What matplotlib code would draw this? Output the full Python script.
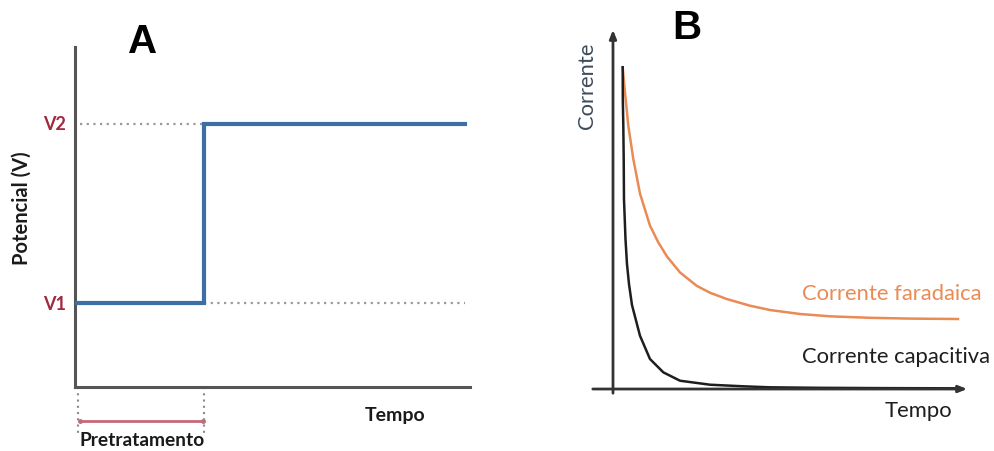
import matplotlib.pyplot as plt
import numpy as np

# ---- panel A: potential step ----
step_t = [0.0, 1.0, 1.0, 3.02]          # tempo (arb. units), pretreatment ends at t=1
step_v = [1.0, 1.0, 2.0, 2.0]           # V1 -> V2
level_names = ['V1', 'V2']
level_values = [1.0, 2.0]
pre_start, pre_end = 0.02, 1.0

# ---- panel B: current transients ----
far_t = [0.272, 0.336, 0.429, 0.569, 0.756, 1.036, 1.269, 1.513, 1.877, 2.345, 2.717,
         3.185, 3.838, 4.398, 5.238, 6.078, 7.199, 8.319, 9.664]
far_i = [8.887, 8.196, 7.273, 6.354, 5.400, 4.514, 4.050, 3.660, 3.220, 2.850, 2.660,
         2.486, 2.301, 2.182, 2.072, 2.008, 1.967, 1.945, 1.934]
cap_t = [0.272, 0.275, 0.289, 0.300, 0.308, 0.350, 0.392, 0.448, 0.532, 0.756, 1.036,
         1.409, 1.877, 2.717, 3.641, 4.398, 5.798, 7.479, 9.664]
cap_i = [8.887, 8.011, 7.273, 6.354, 5.249, 4.144, 3.453, 2.901, 2.320, 1.472, 0.829,
         0.461, 0.229, 0.119, 0.075, 0.047, 0.033, 0.025, 0.019]

W, H = 994, 452
fig = plt.figure(figsize=(W / 100, H / 100), dpi=100)
fig.patch.set_facecolor('white')


def frac(x0, y0, x1, y1):
    # pixel box (top-left origin) -> figure fraction rect
    return [x0 / W, 1 - y1 / H, (x1 - x0) / W, (y1 - y0) / H]


axis_grey = '#555555'
lab_font = 'Lato'

# ================= A =================
axA = fig.add_axes(frac(75, 48, 470, 388))
axA.set_xlim(0, 3.06)
axA.set_ylim(0.531, 2.43)
for s in ['top', 'right']:
    axA.spines[s].set_visible(False)
for s in ['left', 'bottom']:
    axA.spines[s].set_color(axis_grey)
    axA.spines[s].set_linewidth(2.2)
axA.set_xticks([])
axA.set_yticks([])

# dotted guides
axA.plot([0.04, step_t[1]], [level_values[1]] * 2, color='#9a9a9a', lw=1.6,
         ls=(0, (1, 2)))
axA.plot([step_t[1], step_t[-1]], [level_values[0]] * 2, color='#9a9a9a', lw=1.6,
         ls=(0, (1, 2)))
axA.plot(step_t, step_v, color='#3c6fa3', lw=3, solid_joinstyle='miter', zorder=3)

for name, v in zip(level_names, level_values):
    axA.text(-0.155, v, name, color='#a0283f', fontsize=13, fontweight='bold',
             family=lab_font, ha='center', va='center', clip_on=False)

# pretreatment bracket below axis
for t in [pre_start, pre_end]:
    axA.plot([t, t], [0.531, 0.268], color='#8a8a8a', lw=1.5, ls=(0, (1, 2)),
             clip_on=False)
axA.plot([pre_start + 0.02, pre_end - 0.01], [0.341, 0.341], color='#c4687c', lw=2,
         marker='o', markersize=2.5, clip_on=False)
axA.text((pre_start + pre_end) / 2 + 0.01, 0.235, 'Pretratamento', fontsize=13.8,
         fontweight='bold', family=lab_font, ha='center', va='center', color='#1a1a1a',
         clip_on=False)
axA.text(2.48, 0.38, 'Tempo', fontsize=14, fontweight='bold', family=lab_font,
         ha='center', va='center', color='#1a1a1a', clip_on=False)

fig.text(22 / W, 1 - 208 / H, 'Potencial (V)', rotation=90, fontsize=14.5,
         fontweight='bold', family=lab_font, ha='center', va='center', color='#1a1a1a')

# ================= B =================
axB = fig.add_axes(frac(590, 28, 970, 397))
axB.set_xlim(-0.644, 10.0)
axB.set_ylim(-0.193, 10.0)
axB.axis('off')

arrow = dict(arrowstyle='-|>,head_length=0.5,head_width=0.2', color='#333333', lw=2)
axB.annotate('', xy=(10.0, 0), xytext=(-0.644, 0), arrowprops=arrow)
axB.annotate('', xy=(0, 10.0), xytext=(0, -0.193), arrowprops=arrow)

axB.plot(far_t, far_i, color='#ea8a55', lw=1.8, solid_joinstyle='round')
axB.plot(cap_t, cap_i, color='#1e1e1e', lw=1.8, solid_joinstyle='round')

fig.text(587 / W, 1 - 86 / H, 'Corrente', rotation=90, fontsize=15.8, family=lab_font,
         ha='center', va='center', color='#3d4b5c')
fig.text(892 / W, 1 - 294 / H, 'Corrente faradaica', fontsize=15.8, family=lab_font,
         ha='center', va='center', color='#ea8a55')
fig.text(896 / W, 1 - 357 / H, 'Corrente capacitiva', fontsize=15.8, family=lab_font,
         ha='center', va='center', color='#1e1e1e')
fig.text(918 / W, 1 - 411 / H, 'Tempo', fontsize=15.8, family=lab_font,
         ha='center', va='center', color='#1e1e1e')

# panel letters
fig.text(143 / W, 1 - 42 / H, 'A', fontsize=29, fontweight='bold',
         family='Liberation Sans', ha='center', va='center')
fig.text(687 / W, 1 - 28 / H, 'B', fontsize=29, fontweight='bold',
         family='Liberation Sans', ha='center', va='center')

fig.savefig('out.png', dpi=100, facecolor='white')
